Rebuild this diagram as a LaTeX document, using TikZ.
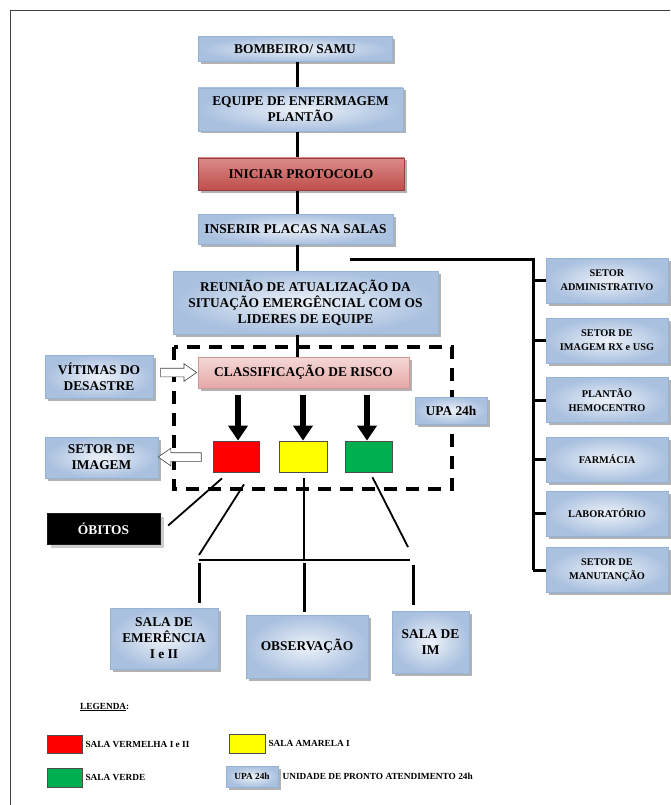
\documentclass[tikz,border=0pt]{standalone}
\usepackage{fontspec}
\setmainfont{Liberation Serif}
\usetikzlibrary{arrows.meta,shapes.arrows,shadows,backgrounds,calc}

\definecolor{azulborda}{HTML}{95B3D7}
\definecolor{azulclaro}{HTML}{EDF2F9}
\definecolor{azulescuro}{HTML}{A9C0DF}
\definecolor{vermtopo}{HTML}{DA8B89}
\definecolor{vermbase}{HTML}{BF4E4B}
\definecolor{rosatopo}{HTML}{F5D8D7}
\definecolor{rosabase}{HTML}{E3A8A7}
\definecolor{salaverm}{HTML}{FF0000}
\definecolor{salaamar}{HTML}{FFFF00}
\definecolor{salaverde}{HTML}{00B050}

\tikzset{
  sombra/.style={drop shadow={shadow xshift=2.5pt, shadow yshift=-2.5pt, opacity=.3, fill=black}},
  caixa/.style={draw=azulborda, line width=0.8pt, inner color=azulclaro, outer color=azulescuro,
    align=center, inner sep=2pt, sombra, font=\fontsize{13.4}{16}\selectfont\bfseries},
  setor/.style={caixa, minimum width=122pt, minimum height=45pt, font=\fontsize{10.3}{14}\selectfont\bfseries},
  protocolo/.style={caixa, draw=vermbase!80!black, top color=vermtopo, bottom color=vermbase},
  risco/.style={caixa, draw=rosabase!90!black, top color=rosatopo, bottom color=rosabase},
  preta/.style={draw=black!90, fill=black, text=white, align=center, inner sep=2pt,
    font=\fontsize{13.4}{16}\selectfont\bfseries,
    drop shadow={shadow xshift=3.5pt, shadow yshift=-3.5pt, opacity=.2, fill=black}},
  quadrado/.style={draw=black!70, line width=0.7pt, inner sep=0pt},
  legenda/.style={anchor=west, inner sep=0pt, font=\fontsize{9.3}{11}\selectfont\bfseries},
  moldura/.style={draw=black!75, line width=1pt},
  tracejado/.style={line width=3.5pt, dash pattern=on 13pt off 9pt},
  tronco/.style={line width=3pt},
  ligacao/.style={line width=3pt},
  fio/.style={line width=1.8pt},
  setagrossa/.style={line width=6pt, -{Triangle[width=19pt,length=15pt]}},
  setavazada/.style={single arrow, draw=black!75, fill=white, line width=0.6pt, inner xsep=0pt,
    inner ysep=4pt, single arrow head extend=4.5pt, single arrow tip angle=70}
}

\begin{document}
\begin{tikzpicture}[x=1pt, y=-1pt, >=Stealth]
\useasboundingbox (0,0) rectangle (670,805);

% moldura da pagina
\draw[moldura] (10,805) -- (10,11) -- (670,11);

% area da UPA
\draw[tracejado] (174,347) rectangle (452,489);

% fluxo principal
\node[caixa, minimum width=194pt, minimum height=25pt] (bombeiro) at (295,49) {BOMBEIRO/ SAMU};
\node[caixa, minimum width=205pt, minimum height=43pt] (equipe) at (300.5,109.5) {EQUIPE DE ENFERMAGEM\\PLANTÃO};
\node[protocolo, minimum width=206pt, minimum height=32pt] (iniciar) at (301,174) {INICIAR PROTOCOLO};
\node[caixa, minimum width=195pt, minimum height=30pt] (inserir) at (295.5,229) {INSERIR PLACAS NA SALAS};
\node[caixa, minimum width=265pt, minimum height=63pt] (reuniao) at (305.5,302.5) {REUNIÃO DE ATUALIZAÇÃO DA\\SITUAÇÃO EMERGÊNCIAL COM OS\\LIDERES DE EQUIPE};
\node[risco, minimum width=211pt, minimum height=31pt] (risco) at (303.5,372.5) {CLASSIFICAÇÃO DE RISCO};
\node[caixa, minimum width=72pt, minimum height=27pt] (upa) at (451,410.5) {UPA 24h};

% linha central
\begin{scope}[on background layer]
  \draw[tronco] ([xshift=2pt]bombeiro.south) -- ([xshift=2pt]bombeiro.south |- risco.north);
\end{scope}

% salas por cor
\foreach \nome/\cor/\x/\w in {vermelha/salaverm/236/46, amarela/salaamar/303/48, verde/salaverde/368.5/47}
  \node[quadrado, fill=\cor, minimum width=\w pt, minimum height=31pt] (\nome) at (\x,456.5) {};

\foreach \nome/\dx in {vermelha/2, amarela/0, verde/-1.5}
  \draw[setagrossa] ([xshift=\dx pt, yshift=-7pt]risco.south -| \nome.north) -- ([xshift=\dx pt]\nome.north);

% entradas e saidas laterais
\node[caixa, minimum width=108pt, minimum height=43pt] (vitimas) at (99,376.5) {VÍTIMAS DO\\DESASTRE};
\node[caixa, minimum width=113pt, minimum height=41pt] (imagem) at (101.5,457.5) {SETOR DE\\IMAGEM};
\node[preta, minimum width=113pt, minimum height=31pt] (obitos) at (103.5,528.5) {ÓBITOS};

\node[setavazada, minimum height=36pt] (seta-vitimas) at ($(vitimas.east)!0.5!(risco.west)+(0,-2)$) {};
\node[setavazada, shape border rotate=180, minimum height=43pt] (seta-imagem) at ($(imagem.east)!0.45!(vermelha.west)$) {};

% setores de apoio
\foreach \nome/\texto/\y in {adm/{SETOR\\ADMINISTRATIVO}/280.5, rx/{SETOR DE\\IMAGEM RX e USG}/340.5,
    hemo/{PLANTÃO\\HEMOCENTRO}/400, farm/{FARMÁCIA}/459.5, lab/{LABORATÓRIO}/513.5,
    manut/{SETOR DE\\MANUTANÇÃO}/570}
  \node[setor] (\nome) at (607,\y) {\texto};

\coordinate (ramo) at (350,259);
\coordinate (barramento) at (533,259);
\draw[ligacao] (ramo) -- (barramento) -- (barramento |- manut.west);
\foreach \nome in {adm,rx,hemo,farm,lab,manut}
  \draw[ligacao] (barramento |- \nome.west) -- (\nome.west);

% destino dos pacientes
\node[caixa, minimum width=108pt, minimum height=61pt] (emergencia) at (164,638.5) {SALA DE\\EMERÊNCIA\\I e II};
\node[caixa, minimum width=122pt, minimum height=63pt] (observacao) at (307,646.5) {OBSERVAÇÃO};
\node[caixa, minimum width=77pt, minimum height=62pt] (salaim) at (430.5,642) {SALA DE\\IM};

\coordinate (barra-e) at (199,560);
\coordinate (barra-m) at (304,560);
\coordinate (barra-d) at (410,560);

\draw[fio] ([shift={(-14,6)}]vermelha.south) -- ([shift={(8,-3)}]obitos.east);
\draw[fio] ([shift={(8,12)}]vermelha.south) -- ([yshift=5pt]barra-e);
\draw[fio] ([shift={(1,6)}]amarela.south) -- (barra-m);
\draw[fio] ([shift={(4,5)}]verde.south) -- ([shift={(-2,-13)}]barra-d);
\draw[fio] (barra-e) -- (barra-d);
\draw[ligacao, shorten <=3pt, shorten >=5pt] (barra-e) -- (barra-e |- emergencia.north);
\draw[ligacao, shorten <=3pt, shorten >=3pt] (barra-m) -- (barra-m |- observacao.north);
\draw[ligacao, shorten <=5pt, shorten >=6pt] ([xshift=3pt]barra-d) -- ([xshift=3pt]barra-d |- salaim.north);

% legenda
\node[legenda] (titulo) at (80,707) {\underline{LEGENDA}:};
\node[quadrado, fill=salaverm, minimum width=35pt, minimum height=18pt] (leg-verm) at (64.5,744) {};
\node[quadrado, fill=salaamar, minimum width=36pt, minimum height=19pt] (leg-amar) at (247,743.5) {};
\node[quadrado, fill=salaverde, minimum width=35pt, minimum height=19pt] (leg-verde) at (64.5,777.5) {};
\node[caixa, minimum width=52pt, minimum height=21pt, font=\fontsize{9.3}{11}\selectfont\bfseries] (leg-upa) at (252,776.5) {UPA 24h};
\node[legenda] at ([xshift=3pt]leg-verm.east) {SALA VERMELHA I e II};
\node[legenda] at ([xshift=3pt]leg-amar.east) {SALA AMARELA I};
\node[legenda] at ([xshift=3pt]leg-verde.east) {SALA VERDE};
\node[legenda] at ([xshift=4pt]leg-upa.east) {UNIDADE DE PRONTO ATENDIMENTO 24h};

\end{tikzpicture}
\end{document}
